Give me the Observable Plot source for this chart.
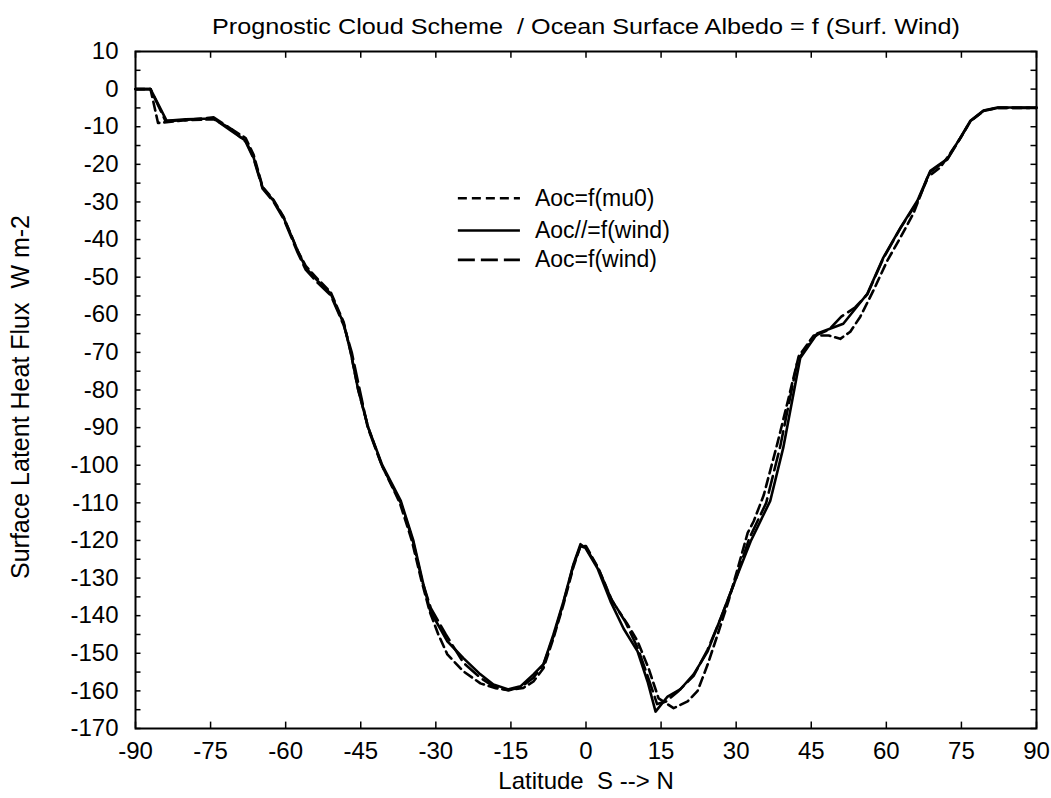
<!DOCTYPE html>
<html>
<head>
<meta charset="utf-8">
<script src="https://cdn.jsdelivr.net/npm/d3@7"></script>
<script src="https://cdn.jsdelivr.net/npm/@observablehq/plot@0.6"></script>
<style>
  html, body { margin: 0; padding: 0; background: #fff; }
</style>
</head>
<body>
<div id="chart"></div>
<script>
// ---- Data ----
const titleText = "Prognostic Cloud Scheme  / Ocean Surface Albedo = f (Surf. Wind)";
const xLabelText = "Latitude  S --> N";
const yLabelText = "Surface Latent Heat Flux  W m-2";

const xTickLabels = [-90, -75, -60, -45, -30, -15, 0, 15, 30, 45, 60, 75, 90];
const yTickLabels = [10, 0, -10, -20, -30, -40, -50, -60, -70, -80, -90, -100, -110, -120, -130, -140, -150, -160, -170];
const yMinorTicks = [10, 5, 0, -5, -10, -15, -20, -25, -30, -35, -40, -45, -50, -55, -60, -65, -70, -75, -80, -85, -90, -95, -100, -105, -110, -115, -120, -125, -130, -135, -140, -145, -150, -155, -160, -165, -170];

const seriesNames = ["Aoc=f(mu0)", "Aoc//=f(wind)", "Aoc=f(wind)"];

// Aoc=f(mu0)  (short dashes)
const latMu0 = [-90, -87, -85.5, -80, -74.4, -71, -68, -66.4, -64.6, -62.4, -60.4, -57.6, -56, -53.6, -51, -48.4, -47, -45.5, -43.5, -40.8, -37.2, -34.8, -33, -31.2, -29.5, -27.7, -24.5, -21.1, -18, -15.5, -12.5, -10.5, -8.5, -6.5, -4.5, -2.5, -1.1, 0, 2.5, 5.2, 8.3, 10.3, 12.5, 14.5, 17.5, 20.3, 22.3, 24.3, 26.3, 28.5, 30.3, 32.3, 33.5, 35.5, 38.2, 40.5, 42.5, 45.5, 48.5, 50.8, 52.8, 54.8, 57.4, 60.2, 62.8, 65.4, 68.2, 70.8, 72.8, 74.8, 76.8, 79.4, 82.2, 90];
const fluxMu0 = [0, 0, -9, -8.3, -8, -10.5, -13, -17.5, -26, -29.5, -34, -43, -47, -50.5, -54, -62, -70, -80, -90, -100, -110, -120, -130, -139, -145, -150.3, -154.8, -158, -159.3, -159.8, -159.2, -157.5, -154, -146, -137, -127, -121.5, -121.5, -127.5, -136, -142.3, -146.8, -154, -162, -164.6, -162.8, -160, -153, -145, -136, -127.5, -118, -114.9, -108, -94.4, -82, -71, -65.5, -65.5, -66.4, -64.5, -60.5, -53.6, -45.6, -39.5, -33.1, -23.5, -20.8, -17, -13, -8.6, -5.8, -5, -5];

// Aoc//=f(wind)  (solid)
const latWindPar = [-90, -87, -83.8, -80, -74.4, -71, -68, -66.4, -64.6, -62.4, -60.4, -57.6, -56, -53.6, -51, -48.4, -47, -45.5, -43.5, -40.7, -37, -34.5, -32.5, -31.1, -27.7, -24.5, -21.1, -18.5, -15.5, -13.1, -10.5, -8.5, -6.5, -4.5, -2.5, -1.1, -0.1, 2.3, 4.9, 7.5, 10.3, 12.3, 13.9, 16.3, 18.9, 21.5, 24.3, 26.9, 30.3, 32.9, 36.8, 39.4, 42.8, 46.2, 51.4, 56.2, 59.4, 62.8, 66.2, 68.8, 72.2, 74.8, 76.8, 79.4, 82.2, 90];
const fluxWindPar = [0, 0, -8.4, -8, -7.8, -11, -13.7, -18.2, -26.2, -29.7, -34.2, -43, -47.5, -51, -54.4, -62.4, -70, -80, -90, -100, -109.5, -120, -131.6, -138.8, -146.8, -151.3, -155.6, -158.3, -159.6, -158.8, -155.6, -152.9, -145, -136.2, -126.3, -121, -122, -127.4, -136.2, -143.4, -149.5, -157.5, -165.5, -161.5, -159.5, -155.6, -149.5, -140.7, -129, -120.2, -109.5, -95.4, -71.5, -65, -62.4, -54.4, -44.8, -36.9, -29.7, -21.7, -18.5, -12.9, -8.4, -5.7, -4.9, -4.9];

// Aoc=f(wind)  (long dashes)
const latWind = [-90, -87, -84, -80, -74.4, -71, -68, -66.4, -64.6, -62.4, -60.4, -57.6, -56, -53.6, -51, -48.4, -46.8, -45.2, -43.6, -40.8, -37, -34.6, -32.7, -31, -28, -24.5, -21.1, -18.5, -15.5, -13, -10.5, -8.5, -6.5, -4.5, -2.5, -1.1, 0, 2.5, 5, 7.8, 10.3, 12.3, 14.2, 16, 18.5, 21.5, 24.3, 27, 30, 32.6, 36, 38.8, 42.3, 45.8, 48.5, 51, 53.8, 56.2, 59.4, 62.8, 66.2, 68.8, 72.2, 74.8, 76.8, 79.4, 82.2, 90];
const fluxWind = [0, 0, -8.5, -8.2, -7.5, -10.5, -14, -18.5, -26.5, -30, -34.5, -43.5, -48, -51.5, -54.8, -62.8, -70, -80, -90, -100, -110, -120, -131, -138, -145, -152.5, -156.5, -158.8, -159.8, -159, -156.5, -153, -145.5, -136.5, -126.5, -121.5, -122, -127.5, -135.5, -141.5, -148.5, -156, -163.5, -162.8, -160, -156, -149, -140.5, -130, -119.5, -110, -95, -72, -65.5, -64, -60.5, -58, -54.6, -45, -37, -30, -22, -18.7, -13, -8.5, -5.8, -5, -5];

// ---- Build table ----
const seriesLat = [latMu0, latWindPar, latWind];
const seriesFlux = [fluxMu0, fluxWindPar, fluxWind];
const rows = [];
seriesNames.forEach((name, i) => {
  seriesLat[i].forEach((lat, j) => rows.push({series: name, lat, flux: seriesFlux[i][j]}));
});

// ---- Styles ----
const dashes = ["9,5", null, "17,6"];
const font = "'Liberation Sans', Arial, Helvetica, sans-serif";

// legend placement (data coordinates)
const legendX1 = -25.5, legendX2 = -13.1, legendTextX = -10.2;
const legendY = [-29, -37.6, -45.4];

const lineMarks = seriesNames.map((name, i) =>
  Plot.line(rows.filter(d => d.series === name), {
    x: "lat", y: "flux", stroke: "black", strokeWidth: 2.6,
    strokeDasharray: dashes[i], strokeLinejoin: "round"
  })
);
const legendMarks = seriesNames.flatMap((name, i) => [
  Plot.ruleY([legendY[i]], {x1: legendX1, x2: legendX2, y: d => d, stroke: "black", strokeWidth: 2.6, strokeDasharray: dashes[i]}),
  Plot.text([name], {x: legendTextX, y: legendY[i], text: d => d, textAnchor: "start", fontSize: 23, fill: "black"})
]);

const chart = Plot.plot({
  width: 1051,
  height: 798,
  marginLeft: 135,
  marginRight: 15,
  marginTop: 51,
  marginBottom: 70,
  style: {fontFamily: font, fontSize: "24px", background: "#fff", color: "black"},
  x: {domain: [-90, 90], label: null},
  y: {domain: [-170, 10], label: null},
  marks: [
    // inward ticks
    Plot.ruleX(xTickLabels, {x: d => d, y1: -170, y2: -168.3, stroke: "black", strokeWidth: 1.5}),
    Plot.ruleX(xTickLabels, {x: d => d, y1: 10, y2: 8.2, stroke: "black", strokeWidth: 1.5}),
    Plot.ruleY(yMinorTicks, {y: d => d, x1: -90, x2: -88.9, stroke: "black", strokeWidth: 1.5}),
    Plot.ruleY(yMinorTicks, {y: d => d, x1: 90, x2: 88.9, stroke: "black", strokeWidth: 1.5}),
    Plot.axisX(xTickLabels, {anchor: "bottom", tickSize: 0, tickPadding: 13, fontSize: 24, tickFormat: d => String(d), label: null}),
    Plot.axisY(yTickLabels, {anchor: "left", tickSize: 0, tickPadding: 17, fontSize: 24, tickFormat: d => String(d), label: null}),
    ...lineMarks,
    ...legendMarks,
    Plot.frame({stroke: "black", strokeWidth: 2}),
    Plot.text([titleText], {frameAnchor: "top", dy: -33, text: d => d, fontSize: 22, fill: "black"}),
    Plot.text([xLabelText], {frameAnchor: "bottom", dy: 60, text: d => d, fontSize: 24, fill: "black"}),
    Plot.text([yLabelText], {frameAnchor: "left", textAnchor: "middle", dx: -115, dy: 7, rotate: -90, text: d => d, fontSize: 25, fill: "black"})
  ]
});
document.getElementById("chart").appendChild(chart);

// Stretch title to the reference width
d3.select(chart).selectAll("text").filter(function() { return this.textContent === titleText; })
  .attr("textLength", 748).attr("lengthAdjust", "spacingAndGlyphs");
</script>
</body>
</html>
